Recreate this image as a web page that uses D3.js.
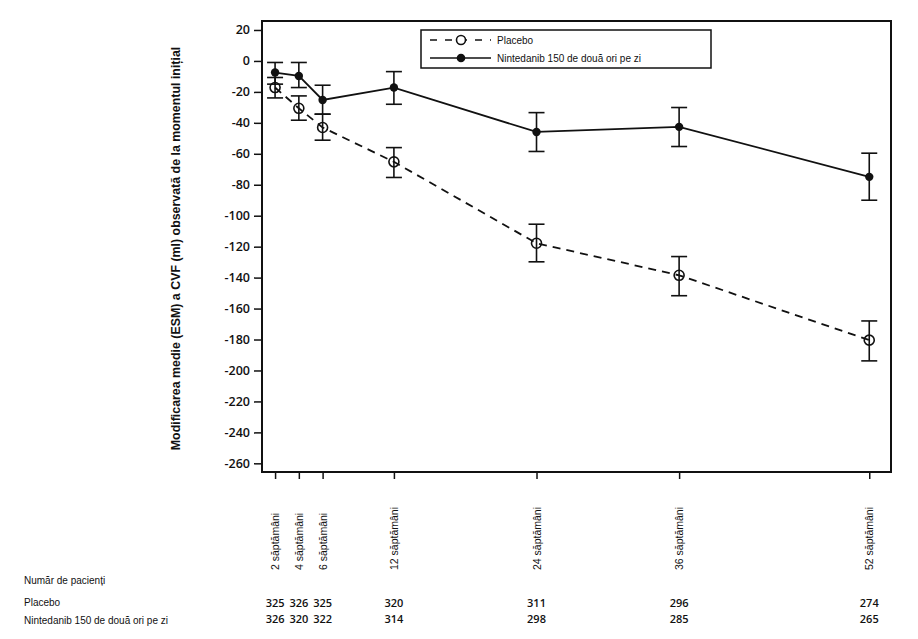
<!DOCTYPE html>
<html>
<head>
<meta charset="utf-8">
<script src="https://cdn.jsdelivr.net/npm/d3@7"></script>
<style>
  body { margin: 0; background: #fff; }
  svg text { fill: #111; }
</style>
</head>
<body>
<div id="chart"></div>
<script>
// weeks on x, mean change (ml) with SE bars
var weeks        = [2, 4, 6, 12, 24, 36, 52]
var weekLabels   = ["2 săptămâni", "4 săptămâni", "6 săptămâni", "12 săptămâni", "24 săptămâni", "36 săptămâni", "52 săptămâni"]
var placeboMean  = [-17.2, -30.6, -43.0, -65.2, -117.8, -138.5, -180.4]
var placeboLo    = [-23.9, -38.3, -51.2, -75.3, -129.8, -151.7, -193.8]
var placeboHi    = [-10.7, -22.6, -34.4, -56.0, -105.5, -126.4, -168.0]
var ninteMean    = [-7.5, -9.7, -25.2, -17.2, -45.9, -42.6, -74.9]
var ninteLo      = [-15.0, -17.2, -34.4, -28.0, -58.5, -55.3, -90.0]
var ninteHi      = [-1.0, -1.0, -15.7, -6.9, -33.4, -30.1, -59.6]
var placeboN     = [325, 326, 325, 320, 311, 296, 274]
var ninteN       = [326, 320, 322, 314, 298, 285, 265]
var yTicks       = d3.range(20, -261, -20)
var seriesNames  = ["Placebo", "Nintedanib 150 de două ori pe zi"]

var W = 918, H = 639
var margin = {top: 21, right: 27, bottom: 167, left: 262},
    width  = W - margin.left - margin.right,
    height = H - margin.top - margin.bottom

var svg = d3.select("#chart").append("svg")
  .attr("width", W)
  .attr("height", H)
  .style("font-family", "'Liberation Sans', Arial, sans-serif")

var g = svg.append("g")
  .attr("transform", "translate(" + margin.left + "," + margin.top + ")")

var x = d3.scaleLinear()
  .domain([0.9, 53.83])
  .range([0, width])

var y = d3.scaleLinear()
  .domain([-265.6, 25.8])
  .range([height, 0])

// y axis, plain hyphen for negatives like the original
var yAxis = g.append("g")
  .call(d3.axisLeft(y).tickValues(yTicks).tickSize(8).tickPadding(4).tickFormat(d => String(d)))
yAxis.select(".domain").remove()
yAxis.selectAll(".tick line").attr("stroke", "#111").attr("stroke-width", 1.5)
yAxis.selectAll(".tick text")
  .style("font-family", "'Open Sans', sans-serif")
  .style("font-weight", 600)
  .style("font-size", "12.5px")
  .attr("fill", "#222")

// x ticks (bottom)
var xAxis = g.append("g")
  .attr("transform", "translate(0," + height + ")")
  .call(d3.axisBottom(x).tickValues(weeks).tickSize(7).tickFormat(""))
xAxis.select(".domain").remove()
xAxis.selectAll(".tick line").attr("stroke", "#111").attr("stroke-width", 1.5)

// frame
g.append("rect")
  .attr("width", width)
  .attr("height", height)
  .attr("fill", "none")
  .attr("stroke", "#111")
  .attr("stroke-width", 2)

// rotated week labels
svg.append("g").selectAll("text")
  .data(weeks)
  .join("text")
  .attr("transform", (d, i) => "translate(" + (margin.left + x(d) + 4) + ",570) rotate(-90)")
  .attr("text-anchor", "start")
  .style("font-size", "10.5px")
  .text((d, i) => weekLabels[i])

// y axis title
svg.append("text")
  .attr("transform", "translate(180," + (margin.top + height / 2 + 2) + ") rotate(-90)")
  .attr("text-anchor", "middle")
  .style("font-size", "12.4px")
  .style("font-weight", "bold")
  .text("Modificarea medie (ESM) a CVF (ml) observată de la momentul inițial")

var line = d3.line()
  .x(d => x(d.w))
  .y(d => y(d.m))

function series(mean, lo, hi) {
  return weeks.map((w, i) => ({ w: w, m: mean[i], lo: lo[i], hi: hi[i] }))
}
var pData = series(placeboMean, placeboLo, placeboHi)
var nData = series(ninteMean, ninteLo, ninteHi)

function errorBars(data) {
  var eb = g.append("g").attr("stroke", "#111").attr("stroke-width", 1.6)
  eb.selectAll(".v").data(data).join("line")
    .attr("x1", d => x(d.w)).attr("x2", d => x(d.w))
    .attr("y1", d => y(d.lo)).attr("y2", d => y(d.hi))
  eb.selectAll(".t").data(data).join("line")
    .attr("x1", d => x(d.w) - 8).attr("x2", d => x(d.w) + 8)
    .attr("y1", d => y(d.hi)).attr("y2", d => y(d.hi))
  eb.selectAll(".b").data(data).join("line")
    .attr("x1", d => x(d.w) - 8).attr("x2", d => x(d.w) + 8)
    .attr("y1", d => y(d.lo)).attr("y2", d => y(d.lo))
}

errorBars(pData)
errorBars(nData)

g.append("path")
  .datum(pData)
  .attr("fill", "none")
  .attr("stroke", "#111")
  .attr("stroke-width", 1.8)
  .attr("stroke-dasharray", "8,6")
  .attr("d", line)

g.append("path")
  .datum(nData)
  .attr("fill", "none")
  .attr("stroke", "#111")
  .attr("stroke-width", 1.8)
  .attr("d", line)

g.selectAll(".pc").data(pData).join("circle")
  .attr("cx", d => x(d.w)).attr("cy", d => y(d.m))
  .attr("r", 5)
  .attr("fill", "none")
  .attr("stroke", "#111")
  .attr("stroke-width", 1.6)

g.selectAll(".nc").data(nData).join("circle")
  .attr("cx", d => x(d.w)).attr("cy", d => y(d.m))
  .attr("r", 4.2)
  .attr("fill", "#111")

// legend
var leg = svg.append("g").attr("transform", "translate(421,30)")
leg.append("rect")
  .attr("width", 290).attr("height", 38)
  .attr("fill", "#fff").attr("stroke", "#111").attr("stroke-width", 1.5)
var legRows = [{dash: "7,8", filled: false, y: 10}, {dash: null, filled: true, y: 28}]
legRows.forEach((r, i) => {
  leg.append("line")
    .attr("x1", 9).attr("x2", 70).attr("y1", r.y).attr("y2", r.y)
    .attr("stroke", "#111").attr("stroke-width", 1.6)
    .attr("stroke-dasharray", r.dash)
  leg.append("circle")
    .attr("cx", 40).attr("cy", r.y).attr("r", r.filled ? 3.5 : 4.5)
    .attr("fill", r.filled ? "#111" : "#fff")
    .attr("stroke", "#111").attr("stroke-width", 1.6)
  leg.append("text")
    .attr("x", 76).attr("y", r.y + 3.5)
    .style("font-size", "10px")
    .text(seriesNames[i])
})

// patient count table
var tbl = svg.append("g").style("font-size", "10px")
tbl.append("text").attr("x", 24).attr("y", 584).text("Număr de pacienți")
tbl.append("text").attr("x", 24).attr("y", 606).text(seriesNames[0])
tbl.append("text").attr("x", 24).attr("y", 624).text(seriesNames[1])

function countRow(vals, yy) {
  tbl.append("g").selectAll("text").data(vals).join("text")
    .attr("x", (d, i) => margin.left + x(weeks[i]))
    .attr("y", yy)
    .attr("text-anchor", "middle")
    .style("font-family", "'Open Sans', sans-serif")
    .style("font-weight", 600)
    .style("font-size", "11px")
    .text(d => d)
}
countRow(placeboN, 607)
countRow(ninteN, 623)
</script>
</body>
</html>
